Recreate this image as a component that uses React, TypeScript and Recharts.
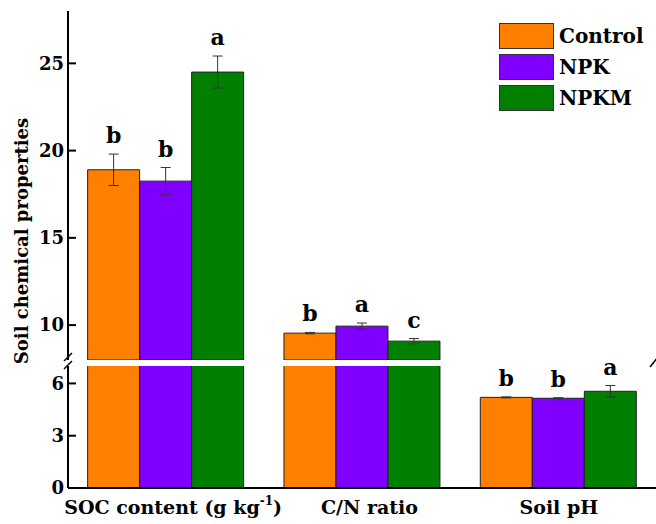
import React from 'react';
import { BarChart, Bar, XAxis, YAxis, ErrorBar, LabelList } from 'recharts';

const categories = ['SOC content (g kg-1)', 'C/N ratio', 'Soil pH'];
const seriesNames = ['Control', 'NPK', 'NPKM'];
const controlValues = [18.9, 9.54, 5.2];
const npkValues = [18.25, 9.94, 5.15];
const npkmValues = [24.5, 9.08, 5.55];
const controlErrors = [0.9, 0.04, 0.03];
const npkErrors = [0.78, 0.18, 0.03];
const npkmErrors = [0.92, 0.15, 0.33];
const controlLetters = ['b', 'b', 'b'];
const npkLetters = ['b', 'a', 'b'];
const npkmLetters = ['a', 'c', 'a'];
const upperTicks = [10, 15, 20, 25];
const lowerTicks = [0, 3, 6];
const upperDomain: [number, number] = [8, 28];
const lowerDomain: [number, number] = [0, 7];

const FONT = '"DejaVu Serif", serif';
const PLOT_LEFT = 68;
const CHART_W = 700;
const MARGIN_RIGHT = 43;
const UPPER_H = 360;
const UPPER_TOP = 11;
const LOWER_PLOT_TOP = 366;
const LOWER_PAD = 40; // room above the lower panel for the letters
const LOWER_H = 158 + LOWER_PAD;
const XAXIS_H = 36;

const series = [
  { key: 'control', name: seriesNames[0], color: '#FF7F00', values: controlValues, errors: controlErrors, letters: controlLetters },
  { key: 'npk', name: seriesNames[1], color: '#7F00FF', values: npkValues, errors: npkErrors, letters: npkLetters },
  { key: 'npkm', name: seriesNames[2], color: '#007F00', values: npkmValues, errors: npkmErrors, letters: npkmLetters },
];

// upper panel only keeps bars that reach above the break
const upperData = categories.map((name, i) => {
  const row: Record<string, string | number | null> = { name };
  series.forEach((s) => {
    const inUpper = s.values[i] >= upperDomain[0];
    row[s.key] = inUpper ? s.values[i] : null;
    row[s.key + 'Err'] = inUpper ? s.errors[i] : null;
  });
  return row;
});

const lowerData = categories.map((name, i) => {
  const row: Record<string, string | number | null> = { name };
  series.forEach((s) => {
    const inLower = s.values[i] <= lowerDomain[1];
    row[s.key] = s.values[i];
    row[s.key + 'Err'] = inLower ? s.errors[i] : null;
  });
  return row;
});

const upperPx = (UPPER_H - UPPER_TOP) / (upperDomain[1] - upperDomain[0]);
const lowerPx = (LOWER_H - LOWER_PAD - XAXIS_H) / (lowerDomain[1] - lowerDomain[0]);

const makeLetter = (
  letters: string[],
  values: number[],
  errors: number[],
  pxPerUnit: number,
  test: (v: number) => boolean
) => (props: any) => {
  const index = props.index;
  if (index === undefined || !test(values[index])) return null;
  const x = Number(props.x);
  const y = Number(props.y);
  const width = Number(props.width);
  const errPx = errors[index] * pxPerUnit;
  return (
    <text
      x={x + width / 2}
      y={y - errPx - 11}
      textAnchor="middle"
      fontSize={22}
      fontWeight="bold"
      fontFamily={FONT}
      fill="#000"
    >
      {letters[index]}
    </text>
  );
};

const YTick = (props: any) => {
  const { y, payload } = props;
  return (
    <g>
      <line x1={PLOT_LEFT} x2={PLOT_LEFT + 8} y1={y} y2={y} stroke="#000" strokeWidth={2} />
      <text
        x={PLOT_LEFT - 4}
        y={y}
        dy="0.35em"
        textAnchor="end"
        fontSize={18}
        fontWeight="bold"
        fontFamily={FONT}
        fill="#000"
      >
        {payload.value}
      </text>
    </g>
  );
};

const XTick = (props: any) => {
  const { x, payload } = props;
  const label: string = payload.value;
  const baseY = LOWER_H - XAXIS_H + 26;
  const common = {
    textAnchor: 'middle' as const,
    fontSize: 19,
    fontWeight: 'bold',
    fontFamily: FONT,
    fill: '#000',
  };
  if (label.includes('-1)')) {
    const head = label.replace('-1)', '');
    return (
      <text x={x + 7} y={baseY} {...common}>
        <tspan>{head}</tspan>
        <tspan dy={-9} fontSize={12}>-1</tspan>
        <tspan dy={9}>)</tspan>
      </text>
    );
  }
  return (
    <text x={x + (label.startsWith('C/N') ? 7 : 0)} y={baseY} {...common}>
      {label}
    </text>
  );
};

const renderBars = (lower: boolean) =>
  series.map((s) => (
    <Bar
      key={s.key}
      dataKey={s.key}
      name={s.name}
      fill={s.color}
      stroke="#222"
      strokeWidth={1}
      isAnimationActive={false}
    >
      <ErrorBar dataKey={s.key + 'Err'} width={5} stroke="#333" strokeWidth={1} direction="y" />
      <LabelList
        dataKey={s.key}
        content={
          lower
            ? makeLetter(s.letters, s.values, s.errors, lowerPx, (v) => v <= lowerDomain[1])
            : makeLetter(s.letters, s.values, s.errors, upperPx, (v) => v >= upperDomain[0])
        }
      />
    </Bar>
  ));

const Legend = () => (
  <div style={{ position: 'absolute', left: 499, top: 23 }}>
    {series.map((s) => (
      <div key={s.key} style={{ display: 'flex', alignItems: 'center', height: 26, marginBottom: 5 }}>
        <div
          style={{
            width: 53,
            height: 24,
            background: s.color,
            border: '1px solid #333',
          }}
        />
        <span
          style={{
            marginLeft: 5,
            fontFamily: FONT,
            fontWeight: 'bold',
            fontSize: 20,
            lineHeight: '26px',
            color: '#000',
          }}
        >
          {s.name}
        </span>
      </div>
    ))}
  </div>
);

export default function App() {
  return (
    <div
      style={{
        position: 'absolute',
        left: 0,
        top: 0,
        width: 656,
        height: 524,
        overflow: 'hidden',
        background: '#fff',
      }}
    >
      <div style={{ position: 'absolute', left: 0, top: 0 }}>
        <BarChart
          width={CHART_W}
          height={UPPER_H}
          data={upperData}
          margin={{ top: UPPER_TOP, right: MARGIN_RIGHT, bottom: 0, left: 8 }}
          barGap={0}
          barCategoryGap="10%"
        >
          <XAxis
            dataKey="name"
            orientation="top"
            height={0}
            tick={false}
            tickLine={false}
            axisLine={{ stroke: '#000', strokeWidth: 2 }}
          />
          <YAxis
            width={60}
            domain={upperDomain}
            ticks={upperTicks}
            allowDataOverflow
            tickLine={false}
            tickSize={0}
            axisLine={{ stroke: '#000', strokeWidth: 2 }}
            tick={<YTick />}
          />
          {renderBars(false)}
        </BarChart>
      </div>
      <div style={{ position: 'absolute', left: 0, top: LOWER_PLOT_TOP - LOWER_PAD }}>
        <BarChart
          width={CHART_W}
          height={LOWER_H}
          data={lowerData}
          margin={{ top: LOWER_PAD, right: MARGIN_RIGHT, bottom: 0, left: 8 }}
          barGap={0}
          barCategoryGap="10%"
        >
          <XAxis
            dataKey="name"
            height={XAXIS_H}
            tickLine={false}
            tickSize={0}
            axisLine={{ stroke: '#000', strokeWidth: 2 }}
            tick={<XTick />}
            interval={0}
          />
          <YAxis
            width={60}
            domain={lowerDomain}
            ticks={lowerTicks}
            allowDataOverflow
            tickLine={false}
            tickSize={0}
            axisLine={{ stroke: '#000', strokeWidth: 2 }}
            tick={<YTick />}
          />
          {renderBars(true)}
        </BarChart>
      </div>
      {/* axis break marks and y title */}
      <svg width={656} height={524} style={{ position: 'absolute', left: 0, top: 0, pointerEvents: 'none' }}>
        <line x1={64} y1={361} x2={72} y2={353} stroke="#000" strokeWidth={1.5} />
        <line x1={64} y1={369} x2={72} y2={361} stroke="#000" strokeWidth={1.5} />
        <line x1={650} y1={367} x2={658} y2={357} stroke="#000" strokeWidth={1.5} />
        <text
          x={28}
          y={241}
          transform="rotate(-90 28 241)"
          textAnchor="middle"
          fontSize={18}
          fontWeight="bold"
          fontFamily={FONT}
          fill="#000"
        >
          Soil chemical properties
        </text>
      </svg>
      <Legend />
    </div>
  );
}
